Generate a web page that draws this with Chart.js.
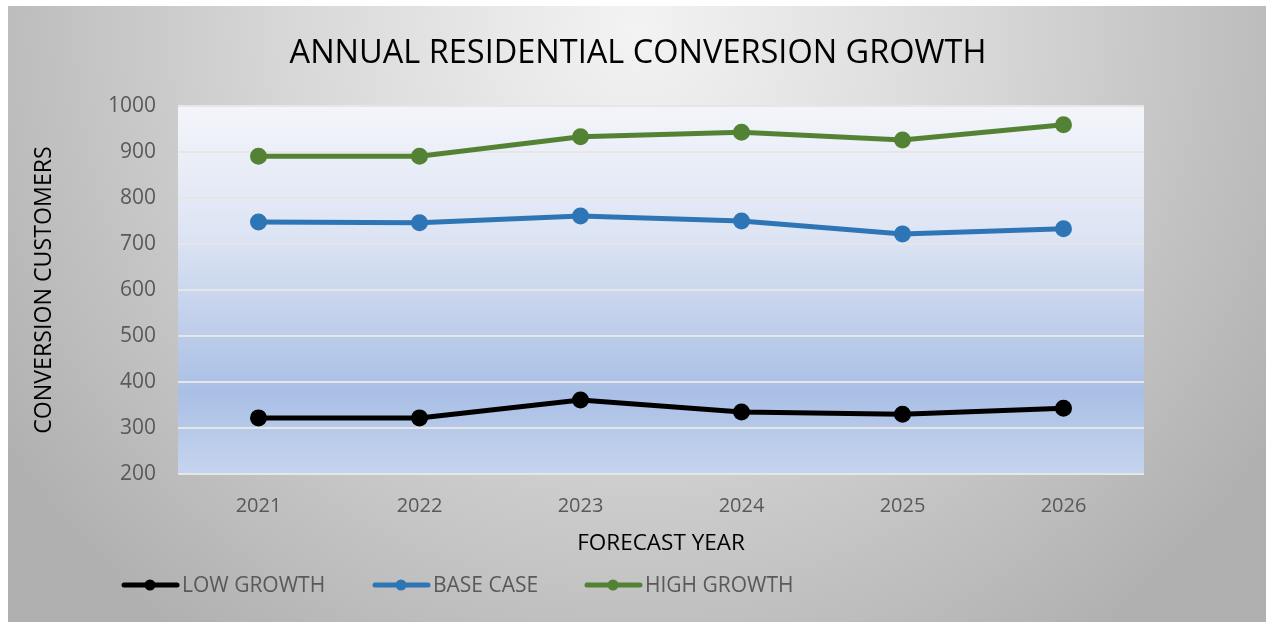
<!DOCTYPE html>
<html>
<head>
<meta charset="utf-8">
<title>Annual Residential Conversion Growth</title>
<script src="https://cdn.jsdelivr.net/npm/chart.js@4/dist/chart.umd.min.js"></script>
<style>
    html, body { margin: 0; padding: 0; background: #ffffff; }
    #wrap { position: relative; width: 1268px; height: 626px; }
</style>
</head>
<body>
<div id="wrap"><canvas id="growthChart" width="1268" height="626"></canvas></div>
<script>
// forecast years and conversion customers per scenario
var years = ['2021', '2022', '2023', '2024', '2025', '2026'];
var lowGrowth = [322, 322, 361, 335, 330, 343];
var baseCase = [748, 746, 761, 750, 722, 733];
var highGrowth = [891, 891, 933, 943, 926, 959];
var yTicks = [200, 300, 400, 500, 600, 700, 800, 900, 1000];

var chartTitle = 'ANNUAL RESIDENTIAL CONVERSION GROWTH';
var FONT = "'Open Sans', sans-serif";

// grey card, plot-area fill, centred title and the legend row
var decorPlugin = {
    id: 'decor',
    beforeDraw: function (chart) {
        var ctx = chart.ctx;
        var area = chart.chartArea;

        ctx.save();
        var g = ctx.createRadialGradient(637, 30, 0, 637, 30, 760);
        g.addColorStop(0, '#f3f3f3');
        g.addColorStop(0.45, '#d8d8d8');
        g.addColorStop(1, '#b0b0b0');
        ctx.fillStyle = g;
        ctx.fillRect(8, 6, 1258, 616);

        var inner = ctx.createLinearGradient(0, area.top, 0, area.bottom);
        inner.addColorStop(0, '#f3f5fa');
        inner.addColorStop(0.35, '#dde4f3');
        inner.addColorStop(0.78, '#a9bfe5');
        inner.addColorStop(1, '#c6d5ee');
        ctx.fillStyle = inner;
        ctx.fillRect(area.left, area.top, area.right - area.left, area.bottom - area.top);

        ctx.fillStyle = '#000000';
        ctx.font = '32.5px ' + FONT;
        ctx.textAlign = 'center';
        ctx.textBaseline = 'middle';
        ctx.fillText(chartTitle, 638, 54);
        ctx.restore();
    },
    afterDraw: function (chart) {
        var ctx = chart.ctx;
        var starts = [122, 373, 585];
        var y = 585;
        ctx.save();
        chart.data.datasets.forEach(function (ds, i) {
            var x = starts[i];
            ctx.strokeStyle = ds.borderColor;
            ctx.lineWidth = 5;
            ctx.lineCap = 'round';
            ctx.beginPath();
            ctx.moveTo(x + 2, y);
            ctx.lineTo(x + 55, y);
            ctx.stroke();
            ctx.fillStyle = ds.borderColor;
            ctx.beginPath();
            ctx.arc(x + 28, y, 5.5, 0, Math.PI * 2);
            ctx.fill();
            ctx.fillStyle = '#595959';
            ctx.font = '21px ' + FONT;
            ctx.textBaseline = 'middle';
            ctx.textAlign = 'left';
            ctx.fillText(ds.label, x + 60, y + 1);
        });
        ctx.restore();
    }
};

var ctx = document.getElementById('growthChart').getContext('2d');
var growthChart = new Chart(ctx, {
    type: 'line',
    data: {
        labels: years,
        datasets: [
            {
                label: 'LOW GROWTH',
                data: lowGrowth,
                borderColor: '#000000',
                backgroundColor: '#000000',
                borderWidth: 5,
                pointRadius: 6,
                pointHoverRadius: 6,
                tension: 0
            },
            {
                label: 'BASE CASE',
                data: baseCase,
                borderColor: '#2e75b6',
                backgroundColor: '#2e75b6',
                borderWidth: 5,
                pointRadius: 6,
                pointHoverRadius: 6,
                tension: 0
            },
            {
                label: 'HIGH GROWTH',
                data: highGrowth,
                borderColor: '#548235',
                backgroundColor: '#548235',
                borderWidth: 5,
                pointRadius: 6,
                pointHoverRadius: 6,
                tension: 0
            }
        ]
    },
    options: {
        responsive: false,
        animation: false,
        layout: {
            padding: { left: 8, right: 124, top: 106, bottom: 62 }
        },
        plugins: {
            legend: { display: false },
            tooltip: { enabled: false },
            title: { display: false }
        },
        scales: {
            x: {
                offset: true,
                grid: { display: false, drawTicks: false },
                border: { display: false },
                ticks: {
                    color: '#595959',
                    font: { family: FONT, size: 20 },
                    padding: 20
                },
                title: {
                    display: true,
                    text: 'FORECAST YEAR',
                    color: '#000000',
                    font: { family: FONT, size: 22.5, lineHeight: 1.2 },
                    padding: { top: 0, bottom: 6.5 }
                },
                afterFit: function (scale) { scale.height = 90; }
            },
            y: {
                min: 200,
                max: 1000,
                afterBuildTicks: function (scale) {
                    scale.ticks = yTicks.map(function (v) { return { value: v }; });
                },
                grid: { color: '#e6e6e6', lineWidth: 2, drawTicks: false },
                border: { display: false },
                ticks: {
                    color: '#595959',
                    font: { family: FONT, size: 21 },
                    padding: 22,
                    callback: function (v) { return String(v); }
                },
                title: {
                    display: true,
                    text: 'CONVERSION CUSTOMERS',
                    color: '#000000',
                    font: { family: FONT, size: 23.2, lineHeight: 1.2 },
                    padding: { top: 22.1, bottom: 0 }
                },
                afterFit: function (scale) { scale.width = 170; }
            }
        }
    },
    plugins: [decorPlugin]
});
</script>
</body>
</html>
